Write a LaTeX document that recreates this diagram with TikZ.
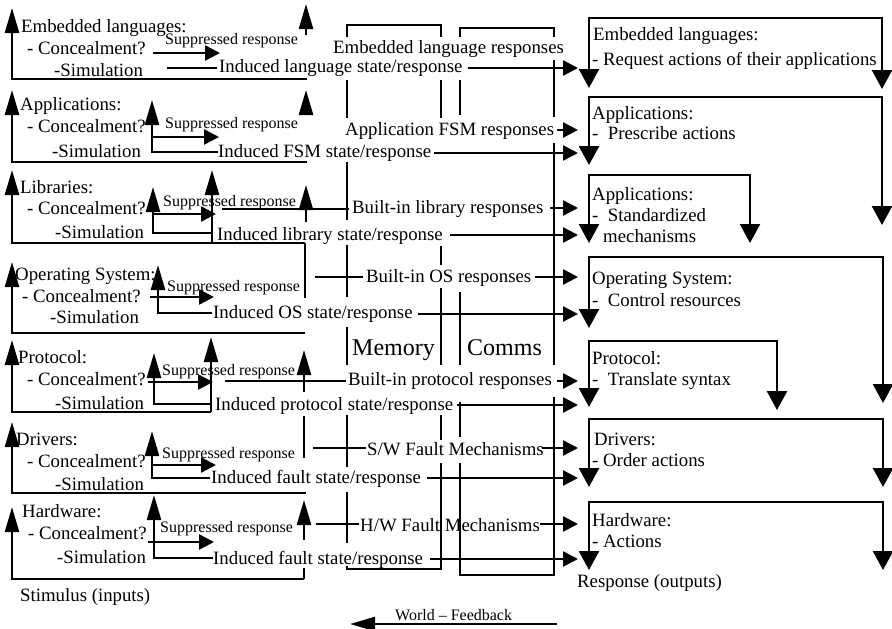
\documentclass[tikz,border=0pt]{standalone}
\usepackage{fontspec}
\setmainfont{Liberation Serif}
\usetikzlibrary{arrows.meta}
\begin{document}
\begin{tikzpicture}[x=1pt,y=-1pt,
  ln/.style={line width=2.5pt},
  up/.style={ln,-{Triangle[length=25pt,width=14pt]}},
  rt/.style={ln,-{Triangle[length=15pt,width=15pt]}},
  dn/.style={ln,{Triangle[length=19pt,width=20pt]}-{Triangle[length=19pt,width=20pt]}},
  lbl/.style={anchor=base west,inner sep=0pt,font=\fontsize{18.8}{22}\selectfont},
  sml/.style={anchor=base west,inner sep=0pt,font=\fontsize{16}{19}\selectfont},
  big/.style={anchor=base west,inner sep=0pt,font=\fontsize{24}{28}\selectfont}]
\fill[white] (0,0) rectangle (892,629);
\useasboundingbox (0,0) rectangle (892,629);

% ---------- Embedded languages (stimulus side) ----------
\draw[up] (307,79) -- (12,79) -- (12,8);
\node[lbl] (l1) at (21,32) {Embedded languages:};
\node[lbl] (l1c) at (27,54) {- Concealment?};
\node[lbl] (l1s) at (54,76) {-Simulation};
\node[sml] (l1sup) at (165,45) {Suppressed response};
\draw[rt] (153,53) -- (220,53);
\draw[ln] (167,68) -- (217,68);
\node[lbl] (l1ind) at (219,72) {Induced language state/response};
\draw[rt] (468,68) -- (578,68);
\draw[up] (306,35) -- (306,4);
\node[lbl] (l1resp) at (333,53) {Embedded language responses};

% ---------- Applications ----------
\draw[up] (307,162) -- (12,162) -- (12,90);
\node[lbl] (l2) at (20,110) {Applications:};
\node[lbl] (l2c) at (27,132) {- Concealment?};
\node[lbl] (l2s) at (52,157) {-Simulation};
\node[sml] (l2sup) at (165,128) {Suppressed response};
\draw[up] (218,152) -- (152,152) -- (152,100);
\draw[rt] (152,137) -- (219,137);
\node[lbl] (l2ind) at (218,157) {Induced FSM state/response};
\draw[rt] (434,153) -- (578,153);
\draw[up] (306,115) -- (306,90);
\node[lbl] (l2resp) at (345,135) {Application FSM responses};
\draw[rt] (557,130) -- (578,130);

% ---------- Libraries ----------
\draw[up] (305,243) -- (12,243) -- (12,170);
\node[lbl] (l3) at (20,193) {Libraries:};
\node[lbl] (l3c) at (27,214) {- Concealment?};
\node[lbl] (l3s) at (55,238) {-Simulation};
\node[sml] (l3sup) at (163,206) {Suppressed response};
\draw[up] (212,233) -- (153,233) -- (153,187);
\draw[rt] (153,214) -- (216,214);
\draw[up] (212,243) -- (212,170);
\node[lbl] (l3ind) at (217,240) {Induced library state/response};
\draw[rt] (450,235) -- (578,235);
\draw[ln] (222,209) -- (349,209);
\node[lbl] (l3resp) at (352,213) {Built-in library responses};
\draw[rt] (550,208) -- (578,208);
\draw[up] (306,222) -- (306,185);

% ---------- Operating System ----------
\draw[up] (305,333) -- (12,333) -- (12,262);
\node[lbl] (l4) at (15,280) {Operating System:};
\node[lbl] (l4c) at (22,302) {- Concealment?};
\node[lbl] (l4s) at (50,323) {-Simulation};
\node[sml] (l4sup) at (167,291) {Suppressed response};
\draw[up] (212,313) -- (158,313) -- (158,265);
\draw[rt] (150,297) -- (214,297);
\node[lbl] (l4ind) at (213,318) {Induced OS state/response};
\draw[rt] (418,314) -- (578,314);
\draw[ln] (315,277) -- (363,277);
\node[lbl] (l4resp) at (366,282) {Built-in OS responses};
\draw[rt] (535,277) -- (578,277);
\draw[ln] (305,243) -- (305,298);

% ---------- Protocol ----------
\draw[up] (211,412) -- (12,412) -- (12,340);
\draw[up] (211,412) -- (211,337);
\node[lbl] (l5) at (18,363) {Protocol:};
\node[lbl] (l5c) at (27,385) {- Concealment?};
\node[lbl] (l5s) at (55,409) {-Simulation};
\node[sml] (l5sup) at (162,375) {Suppressed response};
\draw[up] (211,404) -- (154,404) -- (154,353);
\draw[rt] (148,382) -- (213,382);
\node[lbl] (l5ind) at (215,410) {Induced protocol state/response};
\draw[rt] (457,405) -- (578,405);
\draw[ln] (225,381) -- (346,381);
\node[lbl] (l5resp) at (348,385) {Built-in protocol responses};
\draw[rt] (557,381) -- (578,381);
\draw[up] (304,392) -- (304,350);

% ---------- Drivers ----------
\draw[up] (306,493) -- (12,493) -- (12,422);
\node[lbl] (l6) at (16,445) {Drivers:};
\node[lbl] (l6c) at (27,467) {- Concealment?};
\node[lbl] (l6s) at (55,490) {-Simulation};
\node[sml] (l6sup) at (162,458) {Suppressed response};
\draw[up] (210,478) -- (152,478) -- (152,431);
\draw[rt] (152,465) -- (216,465);
\node[lbl] (l6ind) at (211,483) {Induced fault state/response};
\draw[rt] (427,478) -- (578,478);
\draw[ln] (313,448) -- (366,448);
\node[lbl] (l6resp) at (367,455) {S/W Fault Mechanisms};
\draw[rt] (542,448) -- (578,448);
\draw[ln] (304,416) -- (304,458);

% ---------- Hardware ----------
\draw[up] (304,579) -- (12,579) -- (12,507);
\draw[ln] (304,579) -- (304,568);
\node[lbl] (l7) at (22,517) {Hardware:};
\node[lbl] (l7c) at (28,539) {- Concealment?};
\node[lbl] (l7s) at (57,563) {-Simulation};
\node[sml] (l7sup) at (160,532) {Suppressed response};
\draw[up] (213,558) -- (154,558) -- (154,495);
\draw[rt] (148,542) -- (214,542);
\node[lbl] (l7ind) at (213,564) {Induced fault state/response};
\draw[rt] (430,559) -- (578,559);
\draw[ln] (316,524) -- (359,524);
\node[lbl] (l7resp) at (360,531) {H/W Fault Mechanisms};
\draw[rt] (540,524) -- (578,524);
\draw[up] (304,540) -- (304,500);

\node[lbl] (stim) at (20,601) {Stimulus (inputs)};

% ---------- Memory and Comms columns ----------
\draw[ln] (347,37) -- (347,25) -- (441,25) -- (441,37);
\draw[ln] (460,37) -- (460,28) -- (554,28) -- (554,37);
\draw[ln] (347,80) -- (347,118) (347,162) -- (347,220) (347,245) -- (347,297)
  (347,327) -- (347,365) (347,415) -- (347,467) (347,492) -- (347,543);
\draw[ln] (347,566) -- (347,569) -- (441,569) -- (441,463);
\draw[ln] (441,80) -- (441,118) (441,246) -- (441,265) (441,288) -- (441,365)
  (441,415) -- (441,440);
\draw[ln] (460,80) -- (460,115) (460,292) -- (460,365) (460,402) -- (460,437);
\draw[ln] (460,463) -- (460,575) -- (554,575) -- (554,397);
\draw[ln] (554,60) -- (554,117) (554,143) -- (554,365);
\node[big] (mem) at (352,355) {Memory};
\node[big] (com) at (467,355) {Comms};

% ---------- Response side ----------
\draw[dn] (589,88) -- (589,18) -- (882,18) -- (882,89);
\node[lbl] (r1) at (593,40) {Embedded languages:};
\node[lbl] (r1a) at (592,65) {- Request actions of their applications};

\draw[dn] (589,165) -- (589,97) -- (882,97) -- (882,225);
\node[lbl] (r2) at (592,119) {Applications:};
\node[lbl] (r2a) at (592,139) {-\ \ Prescribe actions};

\draw[dn] (589,243) -- (589,175) -- (750,175) -- (750,243);
\node[lbl] (r3) at (592,200) {Applications:};
\node[lbl] (r3a) at (592,221) {-\ \ Standardized};
\node[lbl] (r3b) at (603,242) {mechanisms};

\draw[dn] (589,328) -- (589,257) -- (883,257) -- (883,403);
\node[lbl] (r4) at (592,284) {Operating System:};
\node[lbl] (r4a) at (592,306) {-\ \ Control resources};

\draw[dn] (589,407) -- (589,341) -- (777,341) -- (777,410);
\node[lbl] (r5) at (592,364) {Protocol:};
\node[lbl] (r5a) at (592,385) {-\ \ Translate syntax};

\draw[dn] (589,487) -- (589,419) -- (883,419) -- (883,487);
\node[lbl] (r6) at (594,445) {Drivers:};
\node[lbl] (r6a) at (592,466) {- Order actions};

\draw[dn] (589,570) -- (589,502) -- (883,502) -- (883,570);
\node[lbl] (r7) at (592,526) {Hardware:};
\node[lbl] (r7a) at (592,547) {- Actions};

\node[lbl] (resp) at (577,587) {Response (outputs)};

% ---------- Feedback ----------
\node[sml] (fb) at (395,620) {World – Feedback};
\draw[up] (557,624) -- (350,624);
\end{tikzpicture}
\end{document}
